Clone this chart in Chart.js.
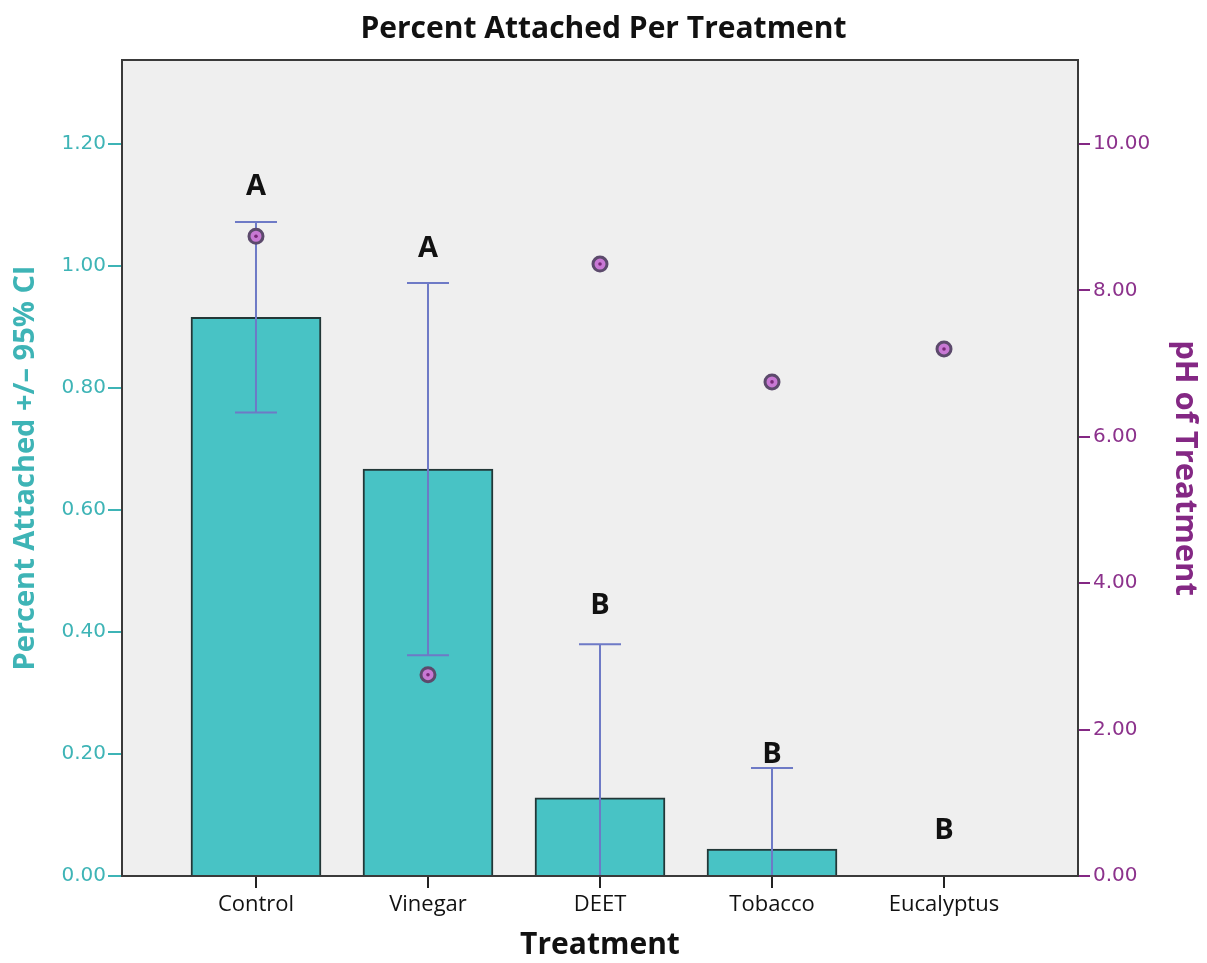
<!DOCTYPE html>
<html>
<head>
<meta charset="utf-8">
<script src="https://cdn.jsdelivr.net/npm/chart.js@4.4.1/dist/chart.umd.min.js"></script>
<style>
  html, body { margin: 0; padding: 0; background: #fff; }
  #wrap { width: 1207px; height: 963px; }
</style>
</head>
<body>
<div id="wrap"><canvas id="chart"></canvas></div>
<script>
const treatments = ['Control', 'Vinegar', 'DEET', 'Tobacco', 'Eucalyptus'];
const percentAttached = [0.916, 0.667, 0.128, 0.044, 0];
const ciLow = [0.760, 0.362, 0, 0, 0];
const ciHigh = [1.072, 0.972, 0.380, 0.177, 0];
const phValues = [8.74, 2.75, 8.36, 6.75, 7.20];
const groupLetters = ['A', 'A', 'B', 'B', 'B'];
const letterLevel = [1.13, 1.028, 0.443, 0.198, 0.075];
const leftTicks = [0, 0.2, 0.4, 0.6, 0.8, 1.0, 1.2];
const rightTicks = [0, 2, 4, 6, 8, 10];

const TEAL = 'rgb(62, 180, 182)';
const PURPLE = 'rgb(132, 40, 132)';
const ERR = 'rgb(110, 122, 198)';
const narrow = "'Open Sans', 'DejaVu Sans Condensed', sans-serif";

const plotBox = {
  id: 'plotBox',
  beforeDatasetsDraw(chart) {
    const { ctx, chartArea: a } = chart;
    ctx.save();
    ctx.fillStyle = '#efefef';
    ctx.fillRect(a.left, a.top, a.right - a.left, a.bottom - a.top);
    ctx.restore();
  },
  afterDatasetDraw(chart, args) {
    if (args.index !== 0) return;
    const { ctx } = chart;
    const x = chart.scales.x, y = chart.scales.y;
    ctx.save();
    ctx.strokeStyle = ERR;
    ctx.lineWidth = 2;
    treatments.forEach((t, i) => {
      if (ciHigh[i] === ciLow[i]) return;
      const px = x.getPixelForValue(i);
      const top = y.getPixelForValue(ciHigh[i]);
      const bot = y.getPixelForValue(ciLow[i]);
      ctx.beginPath();
      ctx.moveTo(px, top); ctx.lineTo(px, bot);
      ctx.moveTo(px - 21, top); ctx.lineTo(px + 21, top);
      if (ciLow[i] > 0) { ctx.moveTo(px - 21, bot); ctx.lineTo(px + 21, bot); }
      ctx.stroke();
    });
    ctx.restore();
  },
  afterDraw(chart) {
    const { ctx, chartArea: a } = chart;
    const x = chart.scales.x, y = chart.scales.y;
    ctx.save();
    ctx.strokeStyle = '#3a3a3a';
    ctx.lineWidth = 2;
    ctx.strokeRect(a.left, a.top, a.right - a.left, a.bottom - a.top);
    ctx.fillStyle = '#111';
    ctx.font = "bold 29px " + narrow;
    ctx.textAlign = 'center';
    ctx.textBaseline = 'middle';
    groupLetters.forEach((l, i) => {
      ctx.fillText(l, x.getPixelForValue(i), y.getPixelForValue(letterLevel[i]));
    });
    ctx.restore();
  }
};

new Chart(document.getElementById('chart').getContext('2d'), {
  type: 'bar',
  data: {
    datasets: [
      {
        label: 'Percent Attached',
        data: treatments.map((t, i) => ({ x: i, y: percentAttached[i] })),
        backgroundColor: 'rgb(72, 195, 197)',
        borderColor: 'rgb(35, 55, 55)',
        borderWidth: 2,
        barThickness: 130,
        yAxisID: 'y',
        order: 3
      },
      {
        type: 'line',
        label: 'pH',
        data: treatments.map((t, i) => ({ x: i, y: phValues[i] })),
        showLine: false,
        pointRadius: 7,
        pointBorderWidth: 3,
        pointBackgroundColor: 'rgb(200, 120, 212)',
        pointBorderColor: 'rgb(92, 74, 108)',
        yAxisID: 'y2',
        order: 2
      },
      {
        type: 'line',
        label: 'pH centre',
        data: treatments.map((t, i) => ({ x: i, y: phValues[i] })),
        showLine: false,
        pointRadius: 1.8,
        pointBorderWidth: 0,
        pointBackgroundColor: 'rgb(120, 40, 120)',
        yAxisID: 'y2',
        order: 1
      }
    ]
  },
  options: {
    responsive: true,
    maintainAspectRatio: false,
    animation: false,
    layout: { padding: 0 },
    plugins: {
      legend: { display: false },
      tooltip: { enabled: false },
      title: {
        display: true,
        text: 'Percent Attached Per Treatment',
        color: '#111',
        font: { family: narrow, size: 30, weight: 'bold' },
        padding: { top: 11, bottom: 13 }
      }
    },
    scales: {
      x: {
        type: 'linear',
        offset: false,
        min: -0.779,
        max: 4.779,
        afterBuildTicks: (axis) => { axis.ticks = treatments.map((t, i) => ({ value: i })); },
        afterFit: (axis) => { axis.height = 87; },
        border: { display: false },
        grid: { offset: false, drawOnChartArea: false, tickLength: 12, tickColor: '#222', lineWidth: 2 },
        ticks: {
          color: '#111',
          padding: 4,
          maxRotation: 0,
          font: { family: narrow, size: 22 },
          callback: (v) => treatments[v]
        },
        title: {
          display: true,
          text: 'Treatment',
          color: '#111',
          font: { family: narrow, size: 30, weight: 'bold' },
          padding: { top: 0, bottom: 0 }
        }
      },
      y: {
        position: 'left',
        min: 0,
        max: 1.3377,
        afterBuildTicks: (axis) => { axis.ticks = leftTicks.map(v => ({ value: v })); },
        afterFit: (axis) => { axis.width = 122; },
        border: { display: false },
        grid: { drawOnChartArea: false, tickLength: 14, tickColor: TEAL, lineWidth: 2 },
        ticks: {
          color: TEAL,
          padding: 2,
          font: { family: 'DejaVu Sans', size: 20 },
          callback: (v) => v.toFixed(2)
        },
        title: {
          display: true,
          text: 'Percent Attached +/\u2013 95% CI',
          color: TEAL,
          font: { family: narrow, size: 29, weight: 'bold' },
          padding: { top: 8, bottom: 0 }
        }
      },
      y2: {
        position: 'right',
        min: 0,
        max: 11.148,
        afterBuildTicks: (axis) => { axis.ticks = rightTicks.map(v => ({ value: v })); },
        afterFit: (axis) => { axis.width = 129; },
        border: { display: false },
        grid: { drawOnChartArea: false, tickLength: 12, tickColor: PURPLE, lineWidth: 2 },
        ticks: {
          color: 'rgb(140, 50, 140)',
          padding: 3,
          font: { family: 'DejaVu Sans', size: 20 },
          callback: (v) => v.toFixed(2)
        },
        title: {
          display: true,
          text: 'pH of Treatment',
          color: PURPLE,
          font: { family: narrow, size: 31, weight: 'bold' },
          padding: { top: 4, bottom: 0 }
        }
      }
    }
  },
  plugins: [plotBox]
});
</script>
</body>
</html>
